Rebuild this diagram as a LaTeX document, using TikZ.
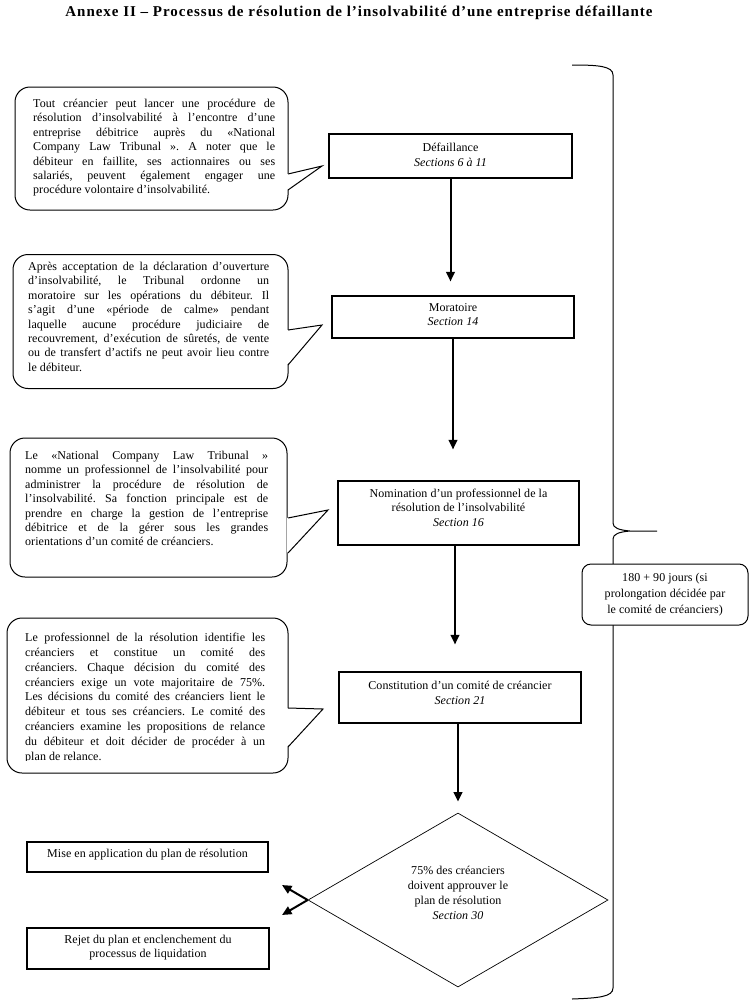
\documentclass[tikz,border=0pt]{standalone}
\usepackage{fontspec}
\setmainfont{Liberation Serif}[LetterSpace=0.5]
\newfontfamily\titlefont{Liberation Serif}[LetterSpace=6.5]
\usetikzlibrary{shapes.geometric,arrows.meta}
\newcommand\cfont{\fontsize{12}{14.4}\selectfont}
\newcommand\dfont{\fontsize{12}{15}\selectfont}
\newcommand\lfont{\fontsize{12}{16}\selectfont}
\tikzset{
  box/.style={draw, line width=1.1pt, inner sep=0pt, fill=white},
  btext/.style={align=center, inner sep=0pt, font=\cfont},
  callbox/.style={draw, line width=1pt, rounded corners=15pt, inner sep=0pt},
  ctext/.style={align=justify, inner sep=0pt, anchor=north west, font=\cfont},
  ptr/.style={line width=1pt, line join=miter},
  arr/.style={line width=2pt, -{Triangle[length=9.5pt,width=8.5pt]}},
  brace/.style={line width=1pt},
}
\begin{document}
\frenchspacing
\begin{tikzpicture}[x=1pt,y=-1pt]
\useasboundingbox[fill=white] (0,0) rectangle (751,1002);

% title
\node[font=\titlefont\bfseries\fontsize{15}{17}\selectfont, inner sep=0pt] (title) at (359,13)
  {Annexe II – Processus de résolution de l’insolvabilité d’une entreprise défaillante};

% ---------- callouts ----------
% callout 1
\node[callbox, minimum width=273pt, minimum height=123pt] (c1) at (151.5,148.5) {};
\fill[white] (287,174) -- (322,166) -- (287,190) -- cycle;
\draw[ptr] (288,174) -- (322,166) -- (288,190);
\begin{scope}
\clip (15,87) rectangle (288,198);
\node[ctext, text width=242pt] (c1t) at (33,99)
 {Tout créancier peut lancer une procédure de\linebreak
  résolution d’insolvabilité à l’encontre d’une\linebreak
  entreprise débitrice auprès du «National\linebreak
  Company Law Tribunal ». A noter que le\linebreak
  débiteur en faillite, ses actionnaires ou ses\linebreak
  salariés, peuvent également engager une\linebreak
  procédure volontaire d’insolvabilité.};
\end{scope}

% callout 2
\node[callbox, minimum width=275pt, minimum height=134pt] (c2) at (150.5,321.5) {};
\fill[white] (287,330) -- (322,325) -- (287,365) -- cycle;
\draw[ptr] (288,330) -- (322,325) -- (288,365);
\node[ctext, text width=241pt] (c2t) at (28,262)
 {Après acceptation de la déclaration d’ouverture\linebreak
  d’insolvabilité, le Tribunal ordonne un\linebreak
  moratoire sur les opérations du débiteur. Il\linebreak
  s’agit d’une «période de calme» pendant\linebreak
  laquelle aucune procédure judiciaire de\linebreak
  recouvrement, d’exécution de sûretés, de vente\linebreak
  ou de transfert d’actifs ne peut avoir lieu contre\linebreak
  le débiteur.};

% callout 3
\node[callbox, minimum width=277pt, minimum height=139pt] (c3) at (148.5,507.5) {};
\fill[white] (287,518) -- (328,510) -- (287,553) -- cycle;
\draw[ptr] (288,518) -- (328,510) -- (288,553);
\node[ctext, text width=243pt] (c3t) at (25,451)
 {Le «National Company Law Tribunal »\linebreak
  nomme un professionnel de l’insolvabilité pour\linebreak
  administrer la procédure de résolution de\linebreak
  l’insolvabilité. Sa fonction principale est de\linebreak
  prendre en charge la gestion de l’entreprise\linebreak
  débitrice et de la gérer sous les grandes\linebreak
  orientations d’un comité de créanciers.};

% callout 4
\node[callbox, minimum width=281pt, minimum height=155pt] (c4) at (147.5,695.5) {};
\fill[white] (287,708) -- (323,709) -- (287,747) -- cycle;
\draw[ptr] (288,708) -- (323,709) -- (288,747);
\begin{scope}
\clip (7,618) rectangle (288,760);
\node[ctext, text width=240pt, font=\fontsize{12}{14.8}\selectfont] (c4t) at (25,633)
 {Le professionnel de la résolution identifie les\linebreak
  créanciers et constitue un comité des\linebreak
  créanciers. Chaque décision du comité des\linebreak
  créanciers exige un vote majoritaire de 75\%.\linebreak
  Les décisions du comité des créanciers lient le\linebreak
  débiteur et tous ses créanciers. Le comité des\linebreak
  créanciers examine les propositions de relance\linebreak
  du débiteur et doit décider de procéder à un\linebreak
  plan de relance.};
\end{scope}

% ---------- flow boxes ----------
\node[box, minimum width=243pt, minimum height=44pt] (def) at (450.5,156) {};
\node[btext] (deft) at (450.5,155) {Défaillance\\\textit{Sections 6 à 11}};

\node[box, minimum width=242pt, minimum height=42pt] (mor) at (453,317) {};
\node[btext] (mort) at (453,314.5) {Moratoire\\\textit{Section 14}};

\node[box, minimum width=241pt, minimum height=64pt] (nom) at (458.5,513) {};
\node[btext] (nomt) at (458.5,507.5) {Nomination d’un professionnel de la\\résolution de l’insolvabilité\\\textit{Section 16}};

\node[box, minimum width=242pt, minimum height=51pt] (con) at (460,697.5) {};
\node[btext] (cont) at (460,693) {Constitution d’un comité de créancier\\\textit{Section 21}};

\node[draw, line width=0.7pt, shape=diamond, minimum width=300pt, minimum height=174pt, inner sep=0pt] (dia) at (458,900) {};
\node[btext, font=\dfont] (diat) at (458,892.5) {75\% des créanciers\\doivent approuver le\\plan de résolution\\\textit{Section 30}};

\node[box, minimum width=241pt, minimum height=30pt] (mise) at (147.5,857) {};
\node[btext] (miset) at (147.5,855) {Mise en application du plan de résolution};

\node[box, minimum width=242pt, minimum height=41pt] (rej) at (148,948.5) {};
\node[btext] (rejt) at (148,947.5) {Rejet du plan et enclenchement du\\processus de liquidation};

% ---------- connectors ----------
\draw[arr, shorten >=14pt] (def.south) -- (def.south |- mor.north);
\draw[arr, shorten >=31pt] (mor.south) -- (mor.south |- nom.north);
\coordinate (n1) at ([xshift=-3.5pt]nom.south);
\draw[arr, shorten >=27pt] (n1) -- (n1 |- con.north);
\draw[arr, shorten >=11pt] (dia.north |- con.south) -- (dia.north);
\coordinate (t1) at (282,885);
\coordinate (t2) at (282,915);
\draw[arr] (dia.west) -- (t1);
\draw[arr] (dia.west) -- (t2);

% ---------- brace ----------
\draw[brace] (572,65) .. controls (598,65) and (613,66) .. (613,75)
  -- (613,523) .. controls (613,528) and (619,530) .. (630,531)
  -- (657,531) -- (630,531)
  .. controls (619,532) and (613,534) .. (613,539)
  -- (613,988) .. controls (613,997) and (598,998) .. (572,999);

\node[draw, line width=1pt, rounded corners=9pt, fill=white, minimum width=166pt, minimum height=61pt, inner sep=0pt] (lab) at (665,594.5) {};
\node[btext, font=\lfont] (labt) at (665,595) {180 + 90 jours (si\\prolongation décidée par\\le comité de créanciers)};
\end{tikzpicture}
\end{document}
